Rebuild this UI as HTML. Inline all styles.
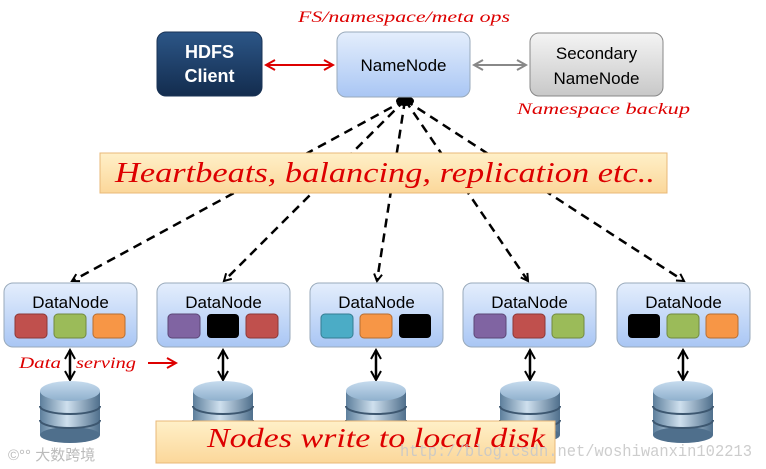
<!DOCTYPE html>
<html><head><meta charset="utf-8"><style>
html,body{margin:0;padding:0;background:#fff;width:766px;height:469px;overflow:hidden}
svg{display:block}
.hand{font-family:"Comic Sans MS","Liberation Serif",serif;font-style:italic;fill:#d00}
.dn{font-family:"Liberation Sans",sans-serif;font-size:17px;fill:#000}
</style></head><body>
<svg width="766" height="469" viewBox="0 0 766 469" xmlns="http://www.w3.org/2000/svg">
<defs>
<linearGradient id="blue" x1="0" y1="0" x2="0" y2="1"><stop offset="0" stop-color="#e4eefc"/><stop offset="1" stop-color="#a9c6f4"/></linearGradient>
<linearGradient id="dark" x1="0" y1="0" x2="0" y2="1"><stop offset="0" stop-color="#2c5687"/><stop offset="1" stop-color="#132c4e"/></linearGradient>
<linearGradient id="grey" x1="0" y1="0" x2="0" y2="1"><stop offset="0" stop-color="#f4f4f4"/><stop offset="1" stop-color="#c8c8c8"/></linearGradient>
<linearGradient id="ban" x1="0" y1="0" x2="0" y2="1"><stop offset="0" stop-color="#fff0c8"/><stop offset="1" stop-color="#fbd79a"/></linearGradient>
<linearGradient id="cyl" x1="0" y1="0" x2="1" y2="0"><stop offset="0" stop-color="#5d7f9c"/><stop offset="0.45" stop-color="#cfe0ee"/><stop offset="1" stop-color="#4f6f8c"/></linearGradient>
<linearGradient id="cyltop" x1="0" y1="0" x2="0" y2="1"><stop offset="0" stop-color="#c6dbee"/><stop offset="1" stop-color="#8fb0cd"/></linearGradient>
<marker id="ah" markerWidth="10" markerHeight="10" refX="8" refY="5" orient="auto" markerUnits="userSpaceOnUse"><path d="M1,1 L8,5 L1,9" fill="none" stroke="#000" stroke-width="2"/></marker>
<marker id="ahr" markerWidth="12" markerHeight="12" refX="10" refY="6" orient="auto-start-reverse" markerUnits="userSpaceOnUse"><path d="M1,1 L10,6 L1,11" fill="none" stroke="#d00" stroke-width="2"/></marker>
<marker id="ahg" markerWidth="12" markerHeight="12" refX="10" refY="6" orient="auto-start-reverse" markerUnits="userSpaceOnUse"><path d="M1,1 L10,6 L1,11" fill="none" stroke="#888" stroke-width="2"/></marker>
<marker id="ahb" markerWidth="12" markerHeight="12" refX="10" refY="6" orient="auto-start-reverse" markerUnits="userSpaceOnUse"><path d="M1,1 L10,6 L1,11" fill="none" stroke="#000" stroke-width="2"/></marker>
</defs>

<g stroke="#000" stroke-width="2.5" stroke-dasharray="9,6" fill="none" marker-end="url(#ah)">
<line x1="405" y1="100" x2="72" y2="281"/>
<line x1="405" y1="100" x2="224" y2="281"/>
<line x1="405" y1="100" x2="377" y2="281"/>
<line x1="405" y1="100" x2="528" y2="281"/>
<line x1="405" y1="100" x2="684" y2="281"/>
</g>
<ellipse cx="405" cy="101" rx="9" ry="5" fill="#000"/>

<rect x="157" y="32" width="105" height="64" rx="9" fill="url(#dark)" stroke="#1a3355"/>
<text x="209.5" y="58" text-anchor="middle" font-family="Liberation Sans,sans-serif" font-weight="bold" font-size="18" fill="#fff">HDFS</text>
<text x="209.5" y="82" text-anchor="middle" font-family="Liberation Sans,sans-serif" font-weight="bold" font-size="18" fill="#fff">Client</text>
<rect x="337" y="32" width="133" height="65" rx="9" fill="url(#blue)" stroke="#9ab"/>
<text x="403.5" y="71" text-anchor="middle" class="dn" font-size="18">NameNode</text>
<rect x="530" y="33" width="133" height="63" rx="9" fill="url(#grey)" stroke="#888"/>
<text x="596.5" y="59" text-anchor="middle" class="dn" font-size="18">Secondary</text>
<text x="596.5" y="84" text-anchor="middle" class="dn" font-size="18">NameNode</text>
<line x1="266" y1="65" x2="333" y2="65" stroke="#d00" stroke-width="2" marker-start="url(#ahr)" marker-end="url(#ahr)"/>
<line x1="474" y1="65" x2="526" y2="65" stroke="#888" stroke-width="2" marker-start="url(#ahg)" marker-end="url(#ahg)"/>
<text x="298" y="22" class="hand" font-size="16" textLength="212" lengthAdjust="spacingAndGlyphs">FS/namespace/meta ops</text>
<text x="517" y="114" class="hand" font-size="16" textLength="173" lengthAdjust="spacingAndGlyphs">Namespace backup</text>

<rect x="100" y="153" width="567" height="40" fill="url(#ban)" stroke="#e8b878"/>
<text x="115" y="182" class="hand" font-size="28" textLength="540" lengthAdjust="spacingAndGlyphs">Heartbeats, balancing, replication etc..</text>

<g transform="translate(4,283)">
<rect width="133" height="64" rx="9" fill="url(#blue)" stroke="#9ab"/>
<text x="66.5" y="25" text-anchor="middle" class="dn">DataNode</text>
<rect x="11" y="31" width="32" height="24" rx="4" fill="#c0504d" stroke="#8c3836"/>
<rect x="50" y="31" width="32" height="24" rx="4" fill="#9bbb59" stroke="#71893f"/>
<rect x="89" y="31" width="32" height="24" rx="4" fill="#f79646" stroke="#b66d31"/>
</g>
<g transform="translate(157,283)">
<rect width="133" height="64" rx="9" fill="url(#blue)" stroke="#9ab"/>
<text x="66.5" y="25" text-anchor="middle" class="dn">DataNode</text>
<rect x="11" y="31" width="32" height="24" rx="4" fill="#8064a2" stroke="#5c4776"/>
<rect x="50" y="31" width="32" height="24" rx="4" fill="#000"/>
<rect x="89" y="31" width="32" height="24" rx="4" fill="#c0504d" stroke="#8c3836"/>
</g>
<g transform="translate(310,283)">
<rect width="133" height="64" rx="9" fill="url(#blue)" stroke="#9ab"/>
<text x="66.5" y="25" text-anchor="middle" class="dn">DataNode</text>
<rect x="11" y="31" width="32" height="24" rx="4" fill="#4bacc6" stroke="#357d91"/>
<rect x="50" y="31" width="32" height="24" rx="4" fill="#f79646" stroke="#b66d31"/>
<rect x="89" y="31" width="32" height="24" rx="4" fill="#000"/>
</g>
<g transform="translate(463,283)">
<rect width="133" height="64" rx="9" fill="url(#blue)" stroke="#9ab"/>
<text x="66.5" y="25" text-anchor="middle" class="dn">DataNode</text>
<rect x="11" y="31" width="32" height="24" rx="4" fill="#8064a2" stroke="#5c4776"/>
<rect x="50" y="31" width="32" height="24" rx="4" fill="#c0504d" stroke="#8c3836"/>
<rect x="89" y="31" width="32" height="24" rx="4" fill="#9bbb59" stroke="#71893f"/>
</g>
<g transform="translate(617,283)">
<rect width="133" height="64" rx="9" fill="url(#blue)" stroke="#9ab"/>
<text x="66.5" y="25" text-anchor="middle" class="dn">DataNode</text>
<rect x="11" y="31" width="32" height="24" rx="4" fill="#000"/>
<rect x="50" y="31" width="32" height="24" rx="4" fill="#9bbb59" stroke="#71893f"/>
<rect x="89" y="31" width="32" height="24" rx="4" fill="#f79646" stroke="#b66d31"/>
</g>

<g stroke="#000" stroke-width="2.5" marker-start="url(#ahb)" marker-end="url(#ahb)">
<line x1="70" y1="350" x2="70" y2="380"/>
<line x1="223" y1="350" x2="223" y2="380"/>
<line x1="376" y1="350" x2="376" y2="380"/>
<line x1="530" y1="350" x2="530" y2="380"/>
<line x1="683" y1="350" x2="683" y2="380"/>
</g>
<g>
<g transform="translate(70,0)">
<rect x="-30" y="391" width="60" height="44" fill="url(#cyl)"/>
<ellipse cx="0" cy="435" rx="30" ry="8" fill="#4f6f8c"/>
<path d="M-30,406 A30,8 0 0 0 30,406 M-30,420 A30,8 0 0 0 30,420" stroke="#3d5770" stroke-width="2" fill="none"/>
<ellipse cx="0" cy="391" rx="30" ry="10" fill="url(#cyltop)"/>
</g>
<g transform="translate(223,0)">
<rect x="-30" y="391" width="60" height="44" fill="url(#cyl)"/>
<ellipse cx="0" cy="435" rx="30" ry="8" fill="#4f6f8c"/>
<path d="M-30,406 A30,8 0 0 0 30,406 M-30,420 A30,8 0 0 0 30,420" stroke="#3d5770" stroke-width="2" fill="none"/>
<ellipse cx="0" cy="391" rx="30" ry="10" fill="url(#cyltop)"/>
</g>
<g transform="translate(376,0)">
<rect x="-30" y="391" width="60" height="44" fill="url(#cyl)"/>
<ellipse cx="0" cy="435" rx="30" ry="8" fill="#4f6f8c"/>
<path d="M-30,406 A30,8 0 0 0 30,406 M-30,420 A30,8 0 0 0 30,420" stroke="#3d5770" stroke-width="2" fill="none"/>
<ellipse cx="0" cy="391" rx="30" ry="10" fill="url(#cyltop)"/>
</g>
<g transform="translate(530,0)">
<rect x="-30" y="391" width="60" height="44" fill="url(#cyl)"/>
<ellipse cx="0" cy="435" rx="30" ry="8" fill="#4f6f8c"/>
<path d="M-30,406 A30,8 0 0 0 30,406 M-30,420 A30,8 0 0 0 30,420" stroke="#3d5770" stroke-width="2" fill="none"/>
<ellipse cx="0" cy="391" rx="30" ry="10" fill="url(#cyltop)"/>
</g>
<g transform="translate(683,0)">
<rect x="-30" y="391" width="60" height="44" fill="url(#cyl)"/>
<ellipse cx="0" cy="435" rx="30" ry="8" fill="#4f6f8c"/>
<path d="M-30,406 A30,8 0 0 0 30,406 M-30,420 A30,8 0 0 0 30,420" stroke="#3d5770" stroke-width="2" fill="none"/>
<ellipse cx="0" cy="391" rx="30" ry="10" fill="url(#cyltop)"/>
</g>
</g>

<text x="19" y="368" class="hand" font-size="16" textLength="42" lengthAdjust="spacingAndGlyphs">Data</text>
<text x="76" y="368" class="hand" font-size="16" textLength="60" lengthAdjust="spacingAndGlyphs">serving</text>
<line x1="148" y1="363" x2="176" y2="363" stroke="#d00" stroke-width="2" marker-end="url(#ahr)"/>

<rect x="156" y="421" width="399" height="42" fill="url(#ban)" stroke="#e8b878"/>
<text x="207" y="447" class="hand" font-size="27" textLength="338" lengthAdjust="spacingAndGlyphs">Nodes write to local disk</text>

<text x="400" y="456" font-family="Liberation Mono,monospace" font-size="17" fill="#c8c8c8" opacity="0.9" textLength="352" lengthAdjust="spacingAndGlyphs">http://blog.csdn.net/woshiwanxin102213</text>
<text x="8" y="460" font-family="Liberation Sans,'Noto Sans CJK SC',sans-serif" font-size="15" fill="#bbb">©°° 大数跨境</text>
</svg>
</body></html>
